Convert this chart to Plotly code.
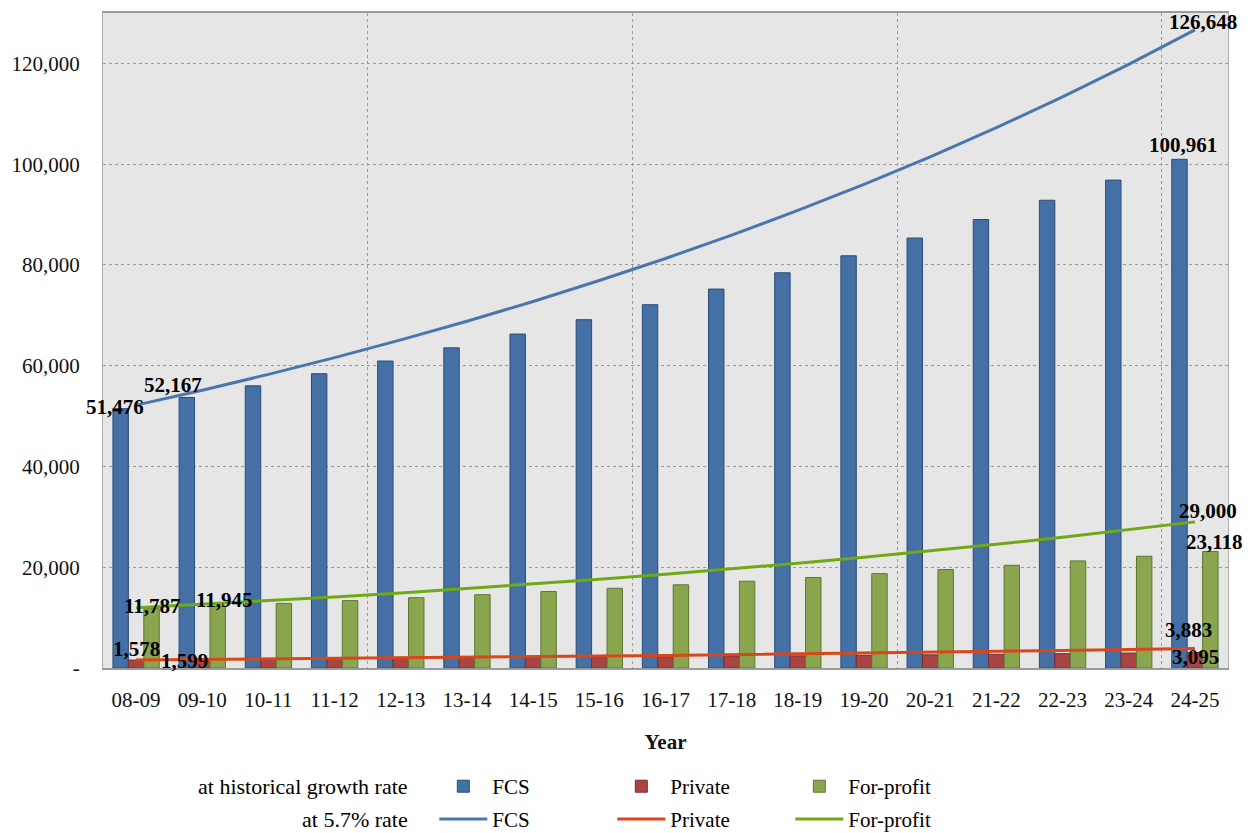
import plotly.graph_objects as go

# ---- data ----
years = ["08-09", "09-10", "10-11", "11-12", "12-13", "13-14", "14-15", "15-16", "16-17",
         "17-18", "18-19", "19-20", "20-21", "21-22", "22-23", "23-24", "24-25"]

# bars: at historical growth rate
fcs_hist = [51476, 53691, 56001, 58410, 60923, 63544, 66278, 69130, 72104,
            75206, 78442, 81817, 85337, 89009, 92838, 96832, 100961]
private_hist = [1578, 1646, 1717, 1791, 1868, 1948, 2032, 2119, 2210,
                2305, 2405, 2508, 2616, 2729, 2846, 2969, 3095]
forprofit_hist = [11787, 12294, 12823, 13375, 13950, 14550, 15176, 15829, 16510,
                  17220, 17961, 18734, 19540, 20381, 21258, 22173, 23118]

# lines: at 5.7% rate
fcs_57 = [52167, 55140, 58280, 61610, 65120, 68830, 72750, 76900, 81280,
          85920, 90810, 95990, 101460, 107240, 113360, 119820, 126648]
private_57 = [1599, 1690, 1786, 1888, 1996, 2110, 2230, 2357, 2491,
              2633, 2783, 2942, 3110, 3287, 3474, 3672, 3883]
forprofit_57 = [11945, 12626, 13345, 14106, 14910, 15760, 16658, 17608, 18611,
                19672, 20793, 21979, 23231, 24556, 25955, 27435, 29000]

y_ticks = [0, 20000, 40000, 60000, 80000, 100000, 120000]
y_tick_text = ["-", "20,000", "40,000", "60,000", "80,000", "100,000", "120,000"]

FONT = "Liberation Serif, Times New Roman, serif"
x = list(range(len(years)))

fig = go.Figure()

# bars
bar_specs = [
    ("FCS", fcs_hist, "#4470A6", "#2B4C76"),
    ("Private", private_hist, "#A84543", "#763030"),
    ("For-profit", forprofit_hist, "#89A54E", "#5E7634"),
]
for name, vals, fill, edge in bar_specs:
    fig.add_trace(go.Bar(
        x=x, y=vals, name=name,
        marker=dict(color=fill, line=dict(color=edge, width=1)),
        legend="legend",
    ))

# lines
line_specs = [
    ("FCS", fcs_57, "#4A76AE"),
    ("Private", private_57, "#D9461A"),
    ("For-profit", forprofit_57, "#70AA12"),
]
for name, vals, col in line_specs:
    fig.add_trace(go.Scatter(
        x=x, y=vals, name=name, mode="lines",
        line=dict(color=col, width=3),
        legend="legend2",
    ))

# data labels on first / last points  (series, index, xshift, yshift)
label_specs = [
    (fcs_hist, 0, -21, 2), (fcs_57, 0, 37, 20),
    (fcs_57, -1, 8, 8), (fcs_hist, -1, -12, 14),
    (forprofit_hist, 0, 16, 3), (forprofit_57, 0, 88, 8),
    (private_hist, 0, 0, 11), (private_57, 0, 48, -1),
    (forprofit_57, -1, 13, 11), (forprofit_hist, -1, 20, 10),
    (private_57, -1, -6, 18), (private_hist, -1, 1, -5),
]
for vals, i, dx, dy in label_specs:
    fig.add_annotation(
        x=x[i], y=vals[i], text=f"{vals[i]:,}",
        showarrow=False, xshift=dx, yshift=dy,
        font=dict(family=FONT, size=21, color="black", weight="bold"),
    )

# row labels for the two-row legend
row_labels = ["at historical growth rate", "at 5.7% rate"]
row_y = [-0.181, -0.231]
for txt, yy in zip(row_labels, row_y):
    fig.add_annotation(
        xref="paper", yref="paper", x=0.273, y=yy, text=txt,
        showarrow=False, xanchor="right", yanchor="middle",
        font=dict(family=FONT, size=22, color="black"),
    )

legend_style = dict(
    orientation="h", xanchor="left", yanchor="middle", x=0.2945,
    entrywidth=115, itemwidth=48, traceorder="normal",
    bgcolor="rgba(0,0,0,0)", font=dict(family=FONT, size=21, color="black"),
)

# page body has an 8px margin, so the plot box is shifted to land where the original sits
fig.update_layout(
    width=1255, height=833,
    margin=dict(l=95, r=35, t=5, b=173, autoexpand=False),
    paper_bgcolor="white",
    plot_bgcolor="#E6E6E6",
    barmode="group", bargap=0.3, bargroupgap=0,
    font=dict(family=FONT, size=21, color="#111"),
    legend=dict(legend_style, y=row_y[0]),
    legend2=dict(legend_style, y=row_y[1]),
    xaxis=dict(
        range=[-0.5, len(years) - 0.5],
        tickvals=x, ticktext=years,
        showgrid=False, zeroline=False,
        showline=True, linecolor="#9A9A9A", linewidth=2, mirror=True,
        ticks="", ticklabelstandoff=12,
        title=dict(text="<b>Year</b>", standoff=23, font=dict(family=FONT, size=21)),
        minor=dict(tickvals=[i - 0.5 for i in range(4, len(years), 4)],
                   showgrid=True, gridcolor="#9A9A9A", griddash="dot", gridwidth=1),
    ),
    yaxis=dict(
        range=[0, 130000],
        tickvals=y_ticks, ticktext=y_tick_text,
        showgrid=True, gridcolor="#9A9A9A", griddash="dot", gridwidth=1,
        zeroline=False,
        showline=True, linecolor="#B0B0B0", linewidth=1, mirror=True,
        ticks="", ticklabelstandoff=18,
    ),
)

fig.write_html("out.html")
